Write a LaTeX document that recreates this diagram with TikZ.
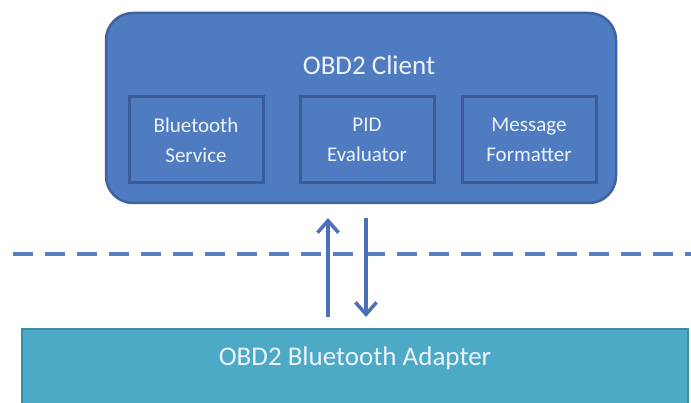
\documentclass[tikz,border=0pt]{standalone}
\usepackage{fontspec}
\setmainfont{Carlito}
\usetikzlibrary{arrows.meta}
\definecolor{clientfill}{HTML}{4F7CC1}
\definecolor{clientline}{HTML}{3F63A2}
\definecolor{innerline}{HTML}{3A5C98}
\definecolor{adapterfill}{HTML}{4DAAC7}
\definecolor{adapterline}{HTML}{3C8BA6}
\definecolor{arrowcol}{HTML}{4A71B8}
\definecolor{dashcol}{HTML}{5B7EC0}
\definecolor{txtcol}{HTML}{EEF2FA}
\tikzset{
  clientbox/.style={draw=clientline, line width=2.5pt, fill=clientfill, rounded corners=27pt,
    minimum width=510pt, minimum height=190pt, inner sep=0pt},
  innerbox/.style={draw=innerline, line width=3pt, fill=clientfill, minimum width=134pt,
    minimum height=86pt, inner sep=0pt, align=center, text=txtcol,
    font=\fontsize{21}{30}\selectfont},
  titletxt/.style={text=txtcol, font=\fontsize{27}{32}\selectfont, inner sep=0pt},
  adapterbox/.style={fill=adapterfill, minimum width=666pt, minimum height=80pt, inner sep=0pt},
  flow/.style={draw=arrowcol, line width=3.5pt, -{Straight Barb[length=12pt,width=21pt,line width=3.5pt]}},
  sepline/.style={draw=dashcol, line width=4pt, dash pattern=on 19.5pt off 12.5pt}
}
\begin{document}
\begin{tikzpicture}[x=1pt,y=-1pt]
\useasboundingbox[fill=white] (0,0) rectangle (691,403);
% client
\node[clientbox] (client) at (361,108) {};
\node[titletxt] (ctitle) at (369,65) {OBD2 Client};
\node[innerbox] (bt) at (196,140) {Bluetooth\\Service};
\node[innerbox] (pid) at (367,140) {PID\\Evaluator};
\node[innerbox] (msg) at (529,140) {Message\\Formatter};
% separator
\coordinate (sepL) at (13,254);
\coordinate (sepR) at (700,254);
\draw[sepline] (sepL) -- (sepR);
% adapter
\node[adapterbox] (adapter) at (355,369) {};
\draw[adapterline, line width=2pt] ([yshift=-10pt]adapter.south west) -- (adapter.north west) -- (adapter.north east) -- ([yshift=-10pt]adapter.south east);
\node[titletxt] (atitle) at (355,358) {OBD2 Bluetooth Adapter};
% arrows
\coordinate (upS) at (328,317);
\coordinate (upE) at (328,218);
\coordinate (dnS) at (366,218);
\coordinate (dnE) at (366,317);
\draw[flow] (upS) -- (upE);
\draw[flow] (dnS) -- (dnE);
\end{tikzpicture}
\end{document}
